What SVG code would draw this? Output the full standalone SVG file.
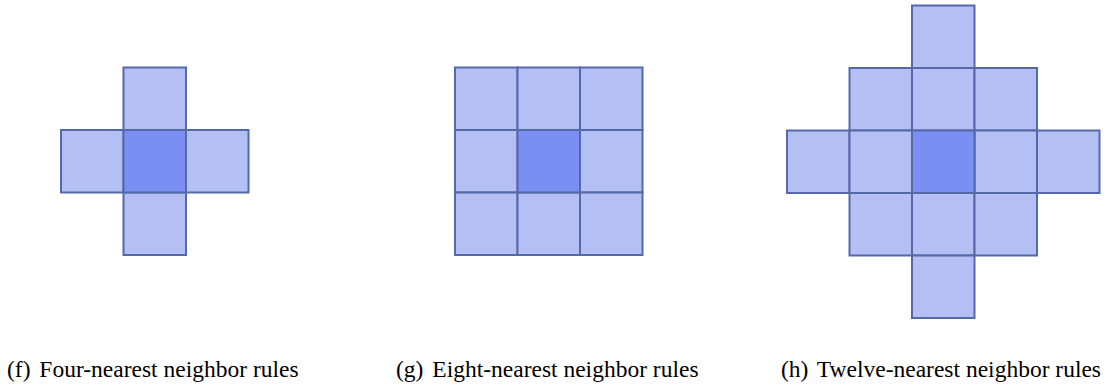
<svg xmlns="http://www.w3.org/2000/svg" width="1113" height="386" viewBox="0 0 1113 386">
<style>
.c{fill:#b4bff4;stroke:#5568a8;stroke-width:2}
.m{fill:#7b8ef3;stroke:#5568a8;stroke-width:2}
text{font-family:"Liberation Serif","Times New Roman",serif;font-size:23.5px;fill:#000}
</style>
<defs><rect id="n" width="62.5" height="62.5"/></defs>
<g id="panel-f">
<use href="#n" class="c" x="123.5" y="67.5"/>
<use href="#n" class="c" x="61" y="130"/>
<use href="#n" class="c" x="186" y="130"/>
<use href="#n" class="c" x="123.5" y="192.5"/>
<use href="#n" class="m" x="123.5" y="130"/>
</g>
<g id="panel-g">
<use href="#n" class="c" x="455" y="67.5"/>
<use href="#n" class="c" x="517.5" y="67.5"/>
<use href="#n" class="c" x="580" y="67.5"/>
<use href="#n" class="c" x="455" y="130"/>
<use href="#n" class="c" x="580" y="130"/>
<use href="#n" class="c" x="455" y="192.5"/>
<use href="#n" class="c" x="517.5" y="192.5"/>
<use href="#n" class="c" x="580" y="192.5"/>
<use href="#n" class="m" x="517.5" y="130"/>
</g>
<g id="panel-h">
<use href="#n" class="c" x="912" y="5.5"/>
<use href="#n" class="c" x="849.5" y="68"/>
<use href="#n" class="c" x="912" y="68"/>
<use href="#n" class="c" x="974.5" y="68"/>
<use href="#n" class="c" x="787" y="130.5"/>
<use href="#n" class="c" x="849.5" y="130.5"/>
<use href="#n" class="c" x="974.5" y="130.5"/>
<use href="#n" class="c" x="1037" y="130.5"/>
<use href="#n" class="c" x="849.5" y="193"/>
<use href="#n" class="c" x="912" y="193"/>
<use href="#n" class="c" x="974.5" y="193"/>
<use href="#n" class="c" x="912" y="255.5"/>
<use href="#n" class="m" x="912" y="130.5"/>
</g>
<g id="captions">
<text x="7" y="377">(f)<tspan dx="3"> Four-nearest neighbor rules</tspan></text>
<text x="396" y="377">(g)<tspan dx="3"> Eight-nearest neighbor rules</tspan></text>
<text x="781" y="377">(h)<tspan dx="3"> Twelve-nearest neighbor rules</tspan></text>
</g>
</svg>
